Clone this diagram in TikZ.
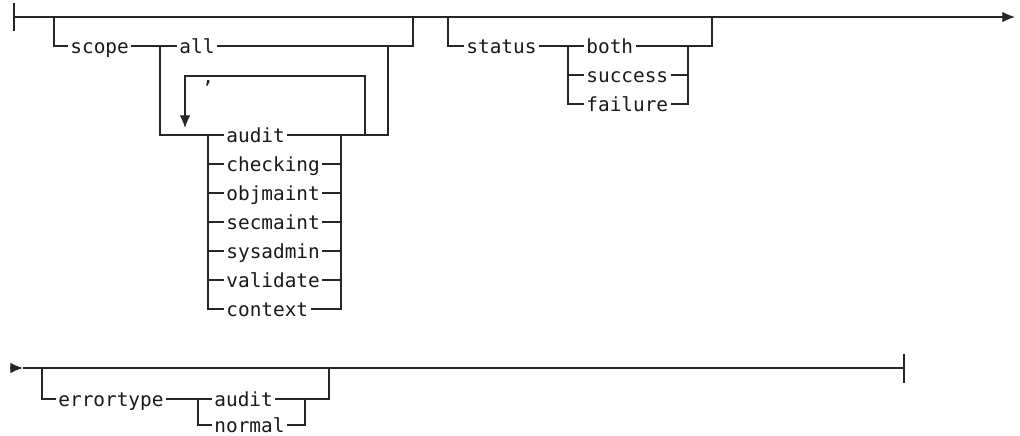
\documentclass[tikz,border=0pt]{standalone}
\usepackage{fontspec}
\usepackage{tikz}
\usetikzlibrary{arrows.meta,positioning}
\newfontfamily\railfont{DejaVu Sans Mono}
\tikzstyle{keyword} = [font={\railfont\fontsize{13.8pt}{16pt}\selectfont}, text=black!90, inner xsep=1.5pt, inner ysep=0.5pt, text height=10.4pt, text depth=0pt, anchor=west]
\tikzstyle{track} = [draw=black!85, line width=0.9pt]
\tikzstyle{arrow} = [track, -{Latex[length=9pt,width=7.5pt]}]

\begin{document}
\begin{tikzpicture}[x=0.025cm, y=-0.025cm]
\useasboundingbox (0,0) rectangle (1020,435);
% First row: junctions
\coordinate (start) at (14,17);
\coordinate (startTop) at (14,3);
\coordinate (startBottom) at (14,31);
\coordinate (rowOneEnd) at (1015,17);
\coordinate (scopeIn) at (54,17);
\coordinate (scopeFork) at (160,46);
\coordinate (listIn) at (208,135);
\coordinate (listOut) at (341,135);
\coordinate (loopStart) at (365,135);
\coordinate (loopEnd) at (185,128);
\coordinate (scopeJoin) at (388,46);
\coordinate (scopeOut) at (413,17);
\coordinate (statusIn) at (448,17);
\coordinate (statusFork) at (568,46);
\coordinate (statusJoin) at (688,46);
\coordinate (statusOut) at (712,17);
% First row: keywords
\node (scope) [keyword] at (68,46) {scope};
\node (all) [keyword] at (177,46) {all};
\node (comma) [keyword] at (200,76) {,};
\node (audit) [keyword] at (224,135) {audit};
\node (checking) [keyword, below=0.725cm of audit.west, anchor=west] {checking};
\node (objmaint) [keyword, below=0.725cm of checking.west, anchor=west] {objmaint};
\node (secmaint) [keyword, below=0.725cm of objmaint.west, anchor=west] {secmaint};
\node (sysadmin) [keyword, below=0.725cm of secmaint.west, anchor=west] {sysadmin};
\node (validate) [keyword, below=0.725cm of sysadmin.west, anchor=west] {validate};
\node (context) [keyword, below=0.725cm of validate.west, anchor=west] {context};
\node (status) [keyword] at (464,46) {status};
\node (both) [keyword] at (584,46) {both};
\node (success) [keyword, below=0.725cm of both.west, anchor=west] {success};
\node (failure) [keyword, below=0.725cm of success.west, anchor=west] {failure};
% First row: tracks
\draw [track] (startTop) -- (startBottom);
\draw [arrow] (start) -- (rowOneEnd);
\draw [track] (scopeIn) |- (scope.west);
\draw [track] (scope.east) -- (scopeFork) -- (all.west);
\draw [track] (all.east) -| (scopeOut);
\draw [track] (scopeFork) |- (listIn) -- (audit.west);
\draw [track] (listIn) |- (context.west);
\draw [track] (audit.east) -| (scopeJoin);
\draw [track] (listOut) |- (context.east);
\draw [track] (checking.west -| listIn) -- (checking.west);
\draw [track] (checking.east) -- (checking.east -| listOut);
\draw [track] (objmaint.west -| listIn) -- (objmaint.west);
\draw [track] (objmaint.east) -- (objmaint.east -| listOut);
\draw [track] (secmaint.west -| listIn) -- (secmaint.west);
\draw [track] (secmaint.east) -- (secmaint.east -| listOut);
\draw [track] (sysadmin.west -| listIn) -- (sysadmin.west);
\draw [track] (sysadmin.east) -- (sysadmin.east -| listOut);
\draw [track] (validate.west -| listIn) -- (validate.west);
\draw [track] (validate.east) -- (validate.east -| listOut);
\draw [arrow] (loopStart) |- (comma.center) -| (loopEnd);
\draw [track] (statusIn) |- (status.west);
\draw [track] (status.east) -- (both.west);
\draw [track] (both.east) -| (statusOut);
\draw [track] (statusFork) |- (failure.west);
\draw [track] (success.west -| statusFork) -- (success.west);
\draw [track] (success.east) -- (success.east -| statusJoin);
\draw [track] (statusJoin) |- (failure.east);
% Second row: junctions
\coordinate (rowTwoIn) at (10,368);
\coordinate (rowTwoTip) at (23,368);
\coordinate (rowTwoEnd) at (904,368);
\coordinate (endTop) at (904,354);
\coordinate (endBottom) at (904,383);
\coordinate (errorIn) at (42,368);
\coordinate (errorFork) at (198,399);
\coordinate (errorJoin) at (305,399);
\coordinate (errorOut) at (329,368);
% Second row: keywords
\node (errortype) [keyword] at (56,399) {errortype};
\node (errAudit) [keyword] at (212,399) {audit};
\node (errNormal) [keyword, below=0.65cm of errAudit.west, anchor=west] {normal};
% Second row: tracks
\draw [arrow] (rowTwoIn) -- (rowTwoTip);
\draw [track] (rowTwoTip) -- (rowTwoEnd);
\draw [track] (endTop) -- (endBottom);
\draw [track] (errorIn) |- (errortype.west);
\draw [track] (errortype.east) -- (errorFork) -- (errAudit.west);
\draw [track] (errAudit.east) -| (errorOut);
\draw [track] (errorFork) |- (errNormal.west);
\draw [track] (errorJoin) |- (errNormal.east);
\end{tikzpicture}
\end{document}
